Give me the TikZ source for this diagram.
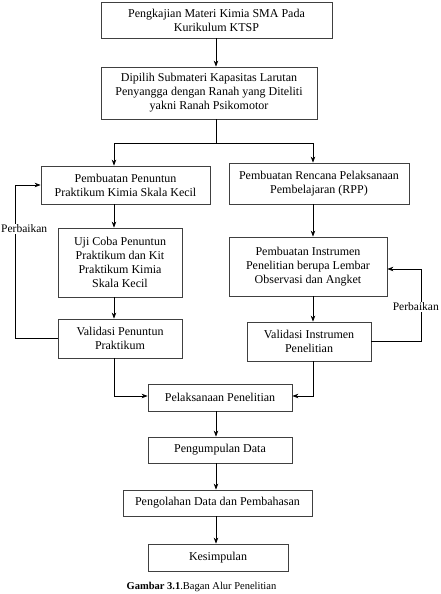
\documentclass[tikz,border=0pt]{standalone}
\usepackage{fontspec}
\setmainfont{Liberation Serif}
\usetikzlibrary{arrows.meta}
\begin{document}
\begin{tikzpicture}[x=1pt,y=-1pt,
  box/.style={draw=black!75,line width=0.8pt,rectangle,align=center,inner sep=2pt,
    font=\fontsize{12}{14}\selectfont},
  arr/.style={line width=0.7pt,-{Stealth[length=6pt,width=4.5pt]}},
  ln/.style={line width=0.7pt},
  lbl/.style={fill=white,inner sep=0.5pt,font=\fontsize{11.5}{14}\selectfont}]
\useasboundingbox (0,0) rectangle (440,594);
\node[box,minimum width=231pt,minimum height=36pt] (b1) at (216.5,20) {Pengkajian Materi Kimia SMA Pada\\Kurikulum KTSP};
\node[box,minimum width=216pt,minimum height=52pt] (b2) at (209,93) {Dipilih Submateri Kapasitas Larutan\\Penyangga dengan Ranah yang Diteliti\\yakni Ranah Psikomotor};
\node[box,minimum width=169pt,minimum height=38pt] (b3) at (125.5,185) {Pembuatan Penuntun\\Praktikum Kimia Skala Kecil};
\node[box,minimum width=180pt,minimum height=41pt] (r1) at (319,183.5) {Pembuatan Rencana Pelaksanaan\\Pembelajaran (RPP)};
\node[box,minimum width=124pt,minimum height=69pt] (b4) at (120,262.5) {Uji Coba Penuntun\\Praktikum dan Kit\\Praktikum Kimia\\Skala Kecil};
\node[box,minimum width=158pt,minimum height=59pt] (r2) at (308,266.5) {Pembuatan Instrumen\\Penelitian berupa Lembar\\Observasi dan Angket};
\node[box,minimum width=124pt,minimum height=39pt] (b5) at (120,338.5) {Validasi Penuntun\\Praktikum};
\node[box,minimum width=124pt,minimum height=39pt] (r3) at (309,341.5) {Validasi Instrumen\\Penelitian};
\node[box,minimum width=144pt,minimum height=27pt] (p) at (220,397.5) {Pelaksanaan Penelitian};
\node[box,minimum width=144pt,minimum height=26pt] (pd) at (220,450) {Pengumpulan Data};
\node[box,minimum width=189pt,minimum height=26pt] (po) at (217.5,503) {Pengolahan Data dan Pembahasan};
\node[box,minimum width=140pt,minimum height=27pt] (k) at (218,557.5) {Kesimpulan};
\node[font=\fontsize{10.5}{12}\selectfont] (cap) at (201.5,587) {\textbf{Gambar 3.1}.Bagan Alur Penelitian};
% coordinates
\coordinate (xm) at (216,0);
\coordinate (jm) at (216,143);
\coordinate (jl) at (114,143);
\coordinate (jr) at (313,143);
\coordinate (fl) at (15,0);
\coordinate (fr) at (421,0);
\coordinate (fr2) at (421,269);
\coordinate (ml) at (114,396);
\coordinate (mr) at (313,396);
% connectors
\draw[arr] (b1.south -| xm) -- (b2.north -| xm);
\draw[ln] (b2.south -| jm) -- (jm);
\draw[ln] (jl) -- (jr);
\draw[arr] (jl) -- (b3.north -| jl);
\draw[arr] (jr) -- (r1.north -| jr);
\draw[arr] (b3.south -| jl) -- (b4.north -| jl);
\draw[arr] (b4.south -| jl) -- (b5.north -| jl);
\draw[arr] (r1.south -| jr) -- (r2.north -| jr);
\draw[arr] (r2.south -| jr) -- (r3.north -| jr);
\draw[arr] (b5.west) -- (b5.west -| fl) -- (fl |- b3.west) -- (b3.west);
\draw[arr] (r3.east) -- (r3.east -| fr) -- (fr2) -- (r2.east |- fr2);
\node[lbl,anchor=west] (pl) at (0.5,229) {Perbaikan};
\node[lbl,anchor=east] (pr) at (439.5,307) {Perbaikan};
\draw[arr] (b5.south -| ml) -- (ml) -- (p.west |- ml);
\draw[arr] (r3.south -| mr) -- (mr) -- (p.east |- mr);
\draw[arr] (p.south -| xm) -- (pd.north -| xm);
\draw[arr] (pd.south -| xm) -- (po.north -| xm);
\draw[arr] (po.south -| xm) -- (k.north -| xm);
\end{tikzpicture}
\end{document}
